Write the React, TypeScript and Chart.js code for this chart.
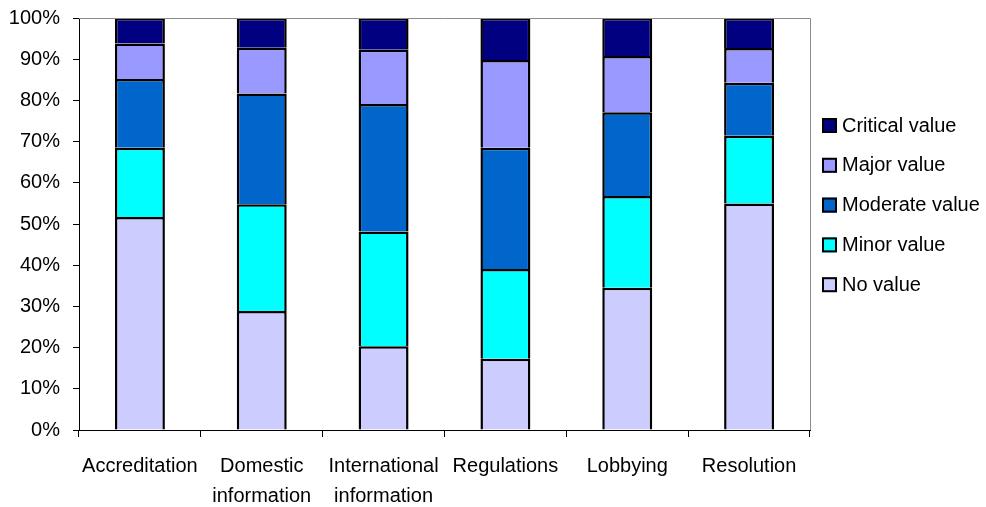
import React, { useEffect, useRef } from "react";
import { Chart, registerables } from "chart.js";

Chart.register(...registerables);

const categories: (string | string[])[] = [
  "Accreditation",
  ["Domestic", "information"],
  ["International", "information"],
  "Regulations",
  "Lobbying",
  "Resolution",
];

// Share of responses per rating (percent), bottom of the stack first
const noValue = [51.7, 28.9, 20.3, 17.3, 34.5, 55.0];
const minorValue = [16.8, 25.9, 27.9, 21.8, 22.3, 16.4];
const moderateValue = [16.7, 26.9, 30.9, 29.4, 20.3, 12.9];
const majorValue = [8.6, 11.1, 13.2, 21.3, 13.7, 8.4];
const criticalValue = [6.2, 7.2, 7.7, 10.2, 9.2, 7.3];

const seriesNames = ["No value", "Minor value", "Moderate value", "Major value", "Critical value"];
const seriesColors = ["#CCCCFF", "#00FFFF", "#0066CC", "#9999FF", "#000080"];

const FONT_FAMILY = '"Liberation Sans", Arial, sans-serif';

// Grey frame on the top and right of the plot area
const framePlugin = {
  id: "plotFrame",
  afterDatasetsDraw(chart: any) {
    const { ctx, chartArea } = chart;
    ctx.save();
    ctx.strokeStyle = "#8c8c8c";
    ctx.lineWidth = 1;
    ctx.beginPath();
    ctx.moveTo(chartArea.left, chartArea.top + 0.5);
    ctx.lineTo(chartArea.right + 0.5, chartArea.top + 0.5);
    ctx.lineTo(chartArea.right + 0.5, chartArea.bottom);
    ctx.stroke();
    ctx.restore();
  },
};

// Legend on the right, top series listed first
const sideLegendPlugin = {
  id: "sideLegend",
  afterDraw(chart: any) {
    const { ctx, chartArea } = chart;
    const datasets = chart.data.datasets;
    const x0 = chartArea.right + 12;
    const firstY = 125;
    const step = 39.8;
    ctx.save();
    ctx.font = `20px ${FONT_FAMILY}`;
    ctx.textBaseline = "middle";
    ctx.textAlign = "left";
    for (let k = 0; k < datasets.length; k++) {
      const ds = datasets[datasets.length - 1 - k];
      const y = firstY + k * step;
      ctx.fillStyle = ds.backgroundColor;
      ctx.fillRect(x0, y - 7, 15, 15);
      ctx.strokeStyle = "#000";
      ctx.lineWidth = 2;
      ctx.strokeRect(x0 + 1, y - 6, 13, 13);
      ctx.fillStyle = "#000";
      ctx.fillText(ds.label, x0 + 20, y + 1);
    }
    ctx.restore();
  },
};

export default function App() {
  const canvasRef = useRef<HTMLCanvasElement | null>(null);

  useEffect(() => {
    const canvas = canvasRef.current;
    if (!canvas) return;
    const values = [noValue, minorValue, moderateValue, majorValue, criticalValue];
    const chart = new Chart(canvas, {
      type: "bar",
      data: {
        labels: categories,
        datasets: values.map((data, i) => ({
          label: seriesNames[i],
          data,
          backgroundColor: seriesColors[i],
          borderColor: "#000000",
          borderWidth: { top: 2.5, left: 2.5, right: 2.5, bottom: 0 },
          borderSkipped: false,
          inflateAmount: 0,
          categoryPercentage: 1,
          barPercentage: 0.41,
        })),
      },
      options: {
        responsive: false,
        animation: false,
        layout: { padding: { top: 18, right: 176, left: 0, bottom: 0 } },
        plugins: {
          legend: { display: false },
          tooltip: { enabled: false },
        },
        scales: {
          x: {
            stacked: true,
            afterFit: (scale: any) => {
              scale.height = 77;
              scale.paddingLeft = 0;
              scale.paddingRight = 0;
            },
            border: { color: "#000", width: 1 },
            grid: {
              display: true,
              drawOnChartArea: false,
              drawTicks: true,
              tickLength: 7,
              color: "#000",
              offset: true,
            },
            ticks: {
              color: "#000",
              padding: 14,
              font: { family: FONT_FAMILY, size: 20, lineHeight: 1.5 },
              maxRotation: 0,
              autoSkip: false,
            },
          },
          y: {
            stacked: true,
            min: 0,
            max: 100,
            afterFit: (scale: any) => {
              scale.width = 79;
              scale.paddingTop = 0;
              scale.paddingBottom = 0;
            },
            border: { color: "#000", width: 1 },
            grid: {
              display: true,
              drawOnChartArea: false,
              drawTicks: true,
              tickLength: 6,
              color: "#000",
            },
            ticks: {
              stepSize: 10,
              color: "#000",
              padding: 13,
              font: { family: FONT_FAMILY, size: 20 },
              callback: (v: any) => `${v}%`,
            },
          },
        },
      },
      plugins: [framePlugin, sideLegendPlugin],
    });
    return () => chart.destroy();
  }, []);

  return (
    <div style={{ position: "fixed", left: 0, top: 0, width: 986, height: 507, background: "#fff" }}>
      <canvas ref={canvasRef} width={986} height={507} style={{ display: "block" }} />
    </div>
  );
}
